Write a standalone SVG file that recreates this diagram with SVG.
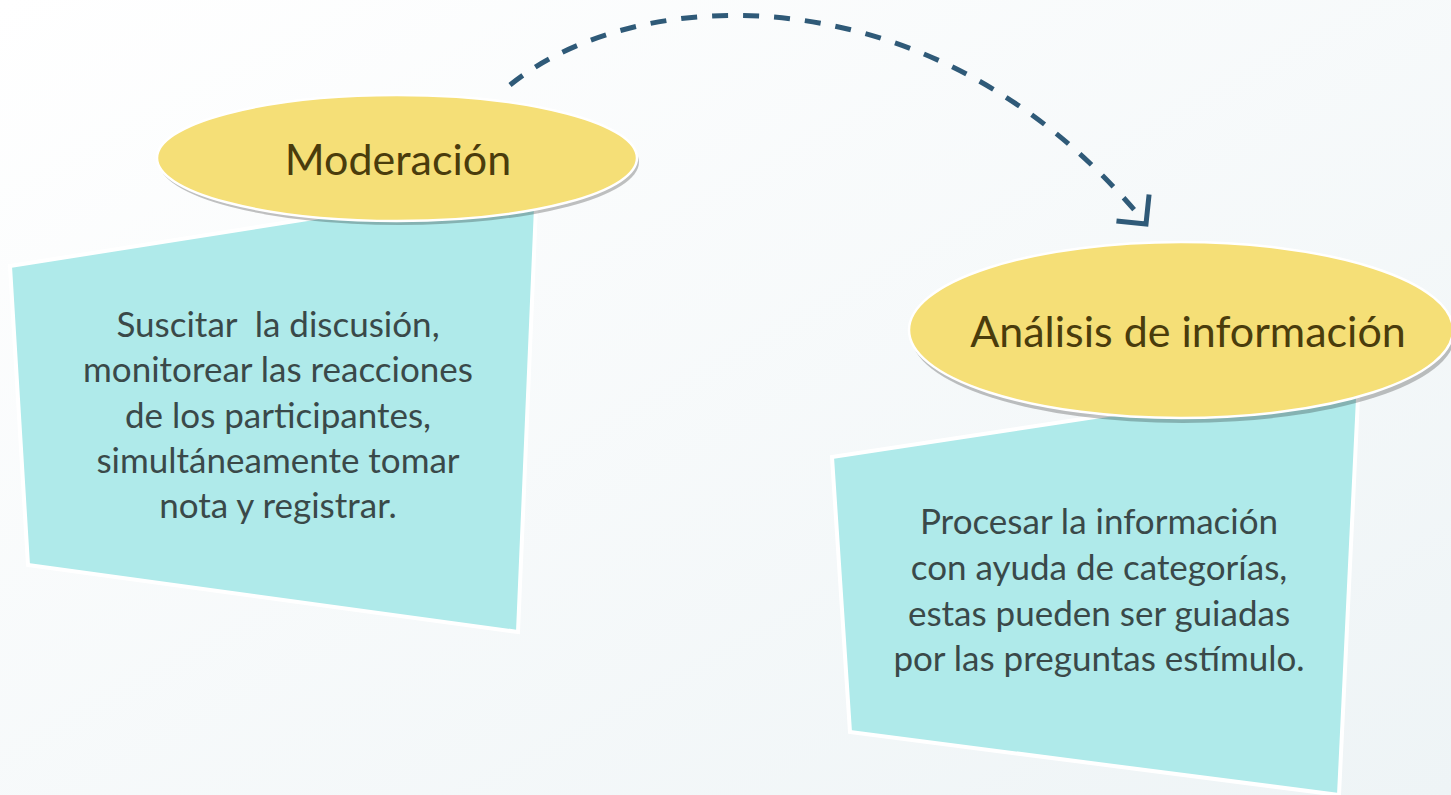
<svg xmlns="http://www.w3.org/2000/svg" width="1451" height="795" viewBox="0 0 1451 795">
  <defs>
    <linearGradient id="bg" x1="0" y1="0" x2="1" y2="1">
      <stop offset="0" stop-color="#ffffff"/>
      <stop offset="1" stop-color="#eef4f6"/>
    </linearGradient>
    <marker id="vhead" markerUnits="userSpaceOnUse" markerWidth="40" markerHeight="50" viewBox="-26 -25 30 50" refX="0" refY="0" orient="auto">
      <path d="M -21 -21 L 0 0 L -21 21" fill="none" stroke="#2f5a78" stroke-width="5"/>
    </marker>
    <style>
      .box { fill: #afeaea; stroke: #ffffff; stroke-width: 4; stroke-linejoin: miter; }
      .shadow { fill: #000000; fill-opacity: 0.24; }
      .oval { fill: #f5df77; stroke: #ffffff; stroke-width: 2.5; }
      .title { font-family: Lato, "Open Sans", sans-serif; font-weight: 400; font-size: 43px; fill: #4a3c0c; text-anchor: middle; }
      .body { font-family: Lato, "Open Sans", sans-serif; font-weight: 400; font-size: 35px; fill: #3a4949; text-anchor: middle; }
      .conn { fill: none; stroke: #2f5a78; stroke-width: 5; stroke-dasharray: 16 15; }
    </style>
  </defs>
  <rect x="0" y="0" width="1451" height="795" fill="url(#bg)"/>

  <g id="node-moderacion">
    <polygon class="box" points="10,266 537,183 518,632 28,565"/>
    <ellipse class="shadow" cx="399" cy="162" rx="240" ry="63"/>
    <ellipse class="oval" cx="397" cy="158" rx="240" ry="63"/>
    <text class="title" x="398" y="175">Moderación</text>
    <text class="body" x="278" y="337" xml:space="preserve">Suscitar  la discusión,</text>
    <text class="body" x="278" y="382">monitorear las reacciones</text>
    <text class="body" x="278" y="428">de los participantes,</text>
    <text class="body" x="278" y="473">simultáneamente tomar</text>
    <text class="body" x="278" y="518">nota y registrar.</text>
  </g>

  <g id="node-analisis">
    <polygon class="box" points="832,457 1359,377 1339,795 850,732"/>
    <ellipse class="shadow" cx="1183" cy="335" rx="272" ry="88"/>
    <ellipse class="oval" cx="1181" cy="330" rx="272" ry="88"/>
    <text class="title" x="1188" y="347">Análisis de información</text>
    <text class="body" x="1099" y="534">Procesar la información</text>
    <text class="body" x="1099" y="580">con ayuda de categorías,</text>
    <text class="body" x="1099" y="626">estas pueden ser guiadas</text>
    <text class="body" x="1099" y="671">por las preguntas estímulo.</text>
  </g>

  <g id="connectors">
    <path class="conn" d="M 510 85 C 640 -20, 940 -30, 1146 224" marker-end="url(#vhead)"/>
  </g>
</svg>
